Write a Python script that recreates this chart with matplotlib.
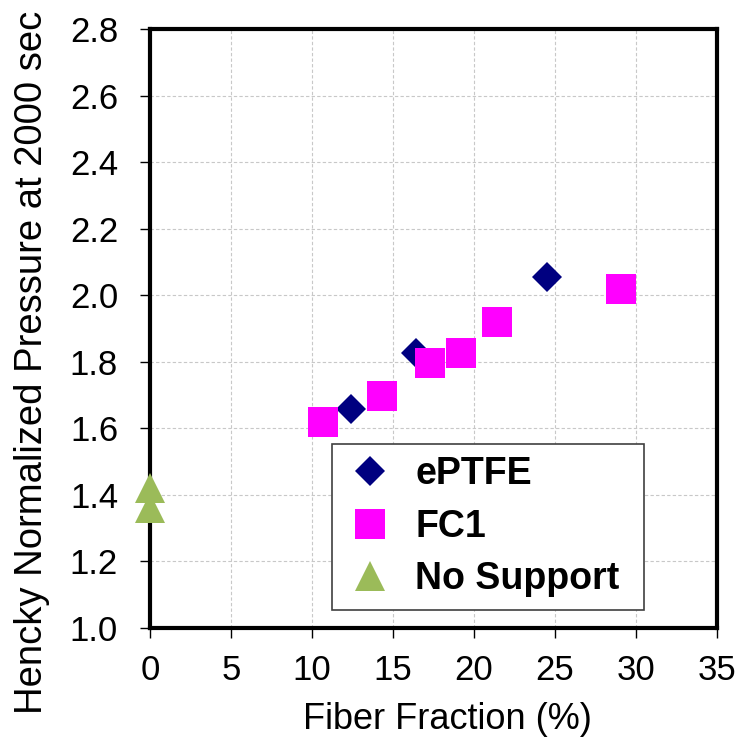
import matplotlib.pyplot as plt

#Fonts (Arial look-alike)
plt.rcParams['font.family'] = ['Liberation Sans', 'DejaVu Sans']

#Data
eptfe_x = [12.4, 16.4, 24.5]
eptfe_y = [1.657, 1.825, 2.056]

fc1_x = [10.7, 14.3, 17.3, 19.2, 21.4, 29.1]
fc1_y = [1.619, 1.698, 1.797, 1.826, 1.920, 2.019]

nosup_x = [0, 0]
nosup_y = [1.42, 1.36]

x_ticks = [0, 5, 10, 15, 20, 25, 30, 35]
y_ticks = [1.0, 1.2, 1.4, 1.6, 1.8, 2.0, 2.2, 2.4, 2.6, 2.8]
y_tick_labels = ['1.0', '1.2', '1.4', '1.6', '1.8', '2.0', '2.2', '2.4', '2.6', '2.8']

#Figure and axes
fig = plt.figure(figsize=(7.39, 7.41), dpi=100)
ax = fig.add_axes([0.2030, 0.1525, 0.7673, 0.8084])

#Scatter series
ax.plot(eptfe_x, eptfe_y, linestyle='none', marker='D', markersize=15.5,
        color='#000080', markeredgewidth=0, label='ePTFE', zorder=3, clip_on=False)
ax.plot(fc1_x, fc1_y, linestyle='none', marker='s', markersize=21,
        color='#FF00FF', markeredgewidth=0, label='FC1', zorder=3, clip_on=False)
ax.plot(nosup_x, nosup_y, linestyle='none', marker='^', markersize=22,
        color='#9BBB59', markeredgewidth=0, label='No Support', zorder=3, clip_on=False)

#Axis limits and ticks
ax.set_xlim(0, 35)
ax.set_ylim(1.0, 2.8)
ax.set_xticks(x_ticks)
ax.set_yticks(y_ticks)
ax.set_yticklabels(y_tick_labels)
ax.tick_params(axis='both', direction='out', length=7, width=1, labelsize=25, color='black')
ax.tick_params(axis='x', pad=12)
ax.tick_params(axis='y', pad=16)

#Gridlines
ax.grid(True, color='#c8c8c8', linestyle=(0, (3, 2)), linewidth=0.8)
ax.set_axisbelow(True)

#Thick black frame
for side in ['left', 'right', 'top', 'bottom']:
    ax.spines[side].set_linewidth(3)
    ax.spines[side].set_color('black')

#Axis labels
ax.set_xlabel('Fiber Fraction (%)', fontsize=26)
ax.xaxis.set_label_coords(0.524, -0.1235)
ax.set_ylabel('Hencky Normalized Pressure at 2000 sec', fontsize=27.5)
ax.yaxis.set_label_coords(-0.177, 0.444)

#Legend
leg = ax.legend(loc='upper left', bbox_to_anchor=(332/739, 1 - 607/741, 312/739, 163/741),
                bbox_transform=fig.transFigure, mode='expand', borderaxespad=0,
                numpoints=1, handlelength=1.37, handletextpad=0.52, borderpad=0.33,
                labelspacing=0.44, fancybox=False, framealpha=1, edgecolor='#404040',
                prop={'weight': 'bold', 'size': 27})
leg.get_frame().set_linewidth(1.2)

fig.savefig('out.png', dpi=100)
